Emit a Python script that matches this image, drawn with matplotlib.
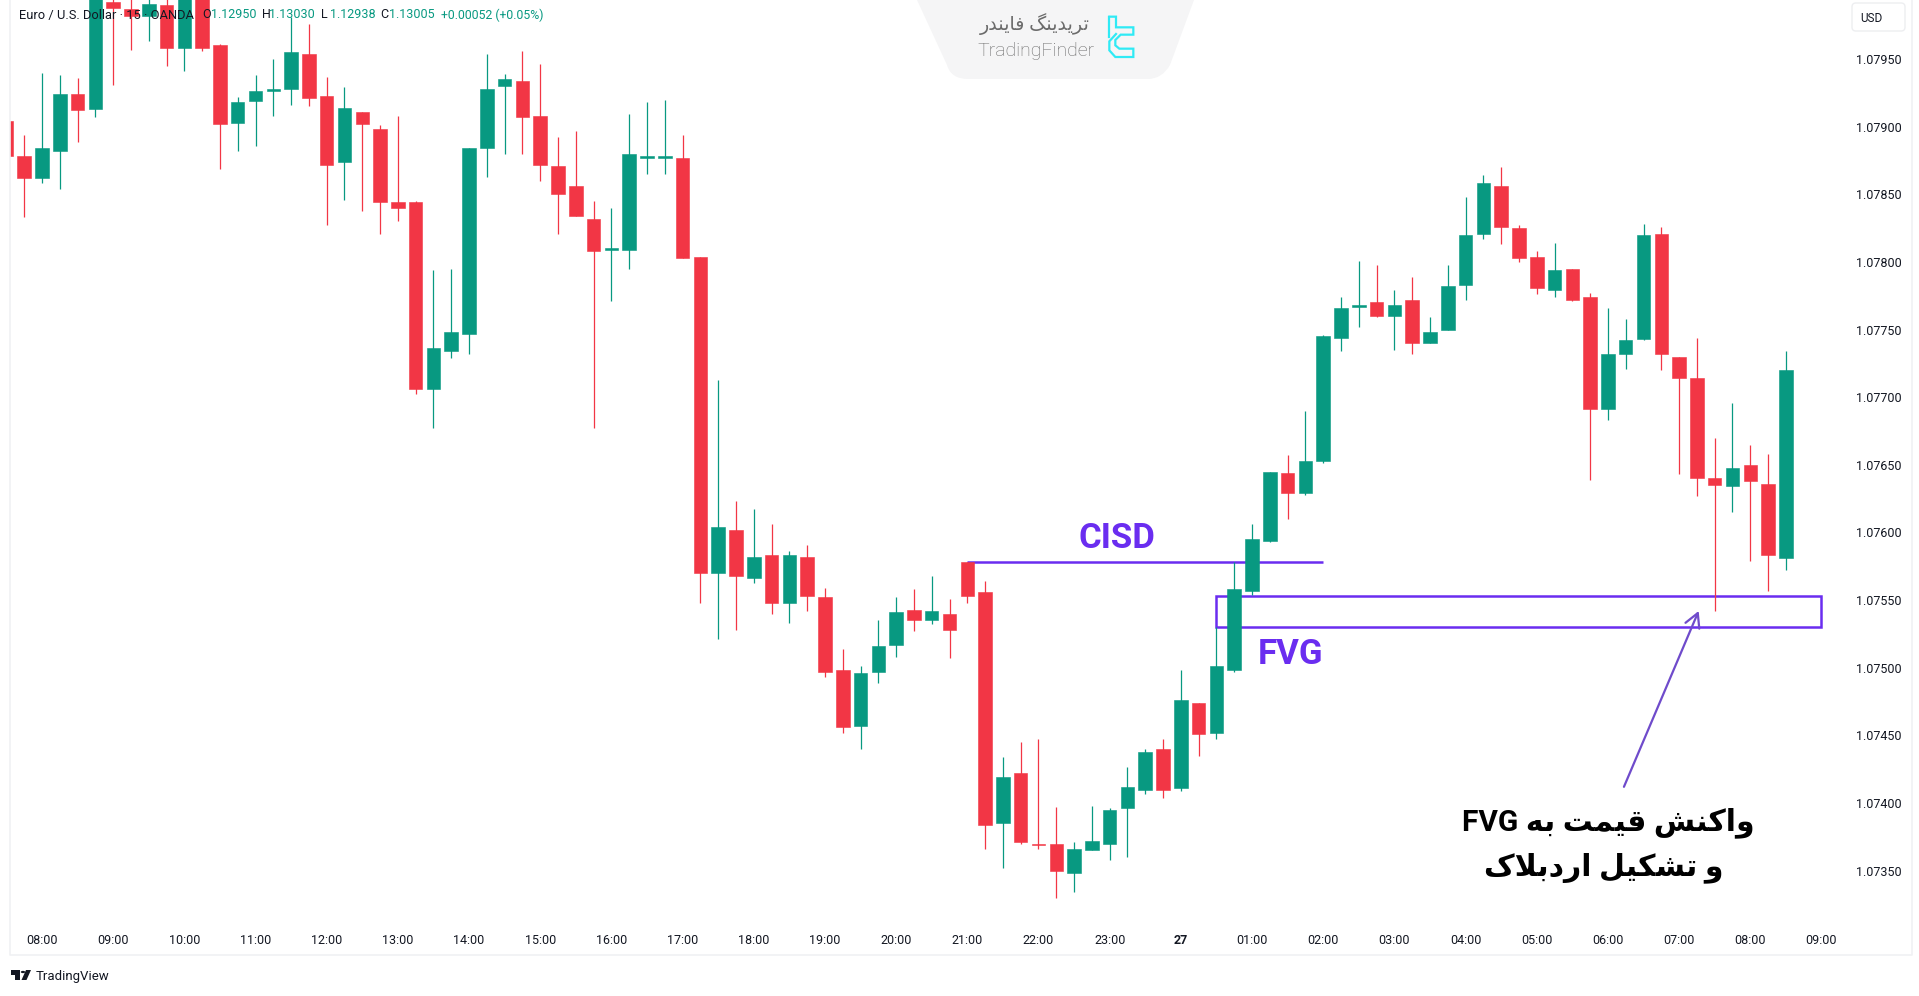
import matplotlib
matplotlib.use("Agg")
import matplotlib.pyplot as plt
from matplotlib.lines import Line2D
from matplotlib.patches import Polygon, PathPatch, FancyBboxPatch, Rectangle
from matplotlib.path import Path

plt.rcParams['font.family'] = ['Roboto', 'DejaVu Sans']

# ---------- data (15-minute candles, index 0 = 08:00) ----------
first_index = -2
opens = [
 1.07904,1.07878,1.07862,1.07882,1.07924,1.07913,1.07992,1.07987,1.07982,1.07990,
 1.07958,1.08005,1.07960,1.07903,1.07919,1.07926,1.07928,1.07954,1.07923,1.07874,
 1.07911,1.07898,1.07844,1.07844,1.07706,1.07734,1.07747,1.07884,1.07930,1.07934,
 1.07908,1.07871,1.07856,1.07832,1.07809,1.07809,1.07877,1.07877,1.07877,1.07804,
 1.07570,1.07602,1.07566,1.07583,1.07548,1.07582,1.07552,1.07498,1.07457,1.07497,
 1.07517,1.07543,1.07535,1.07540,1.07578,1.07556,1.07385,1.07422,1.07370,1.07370,
 1.07348,1.07365,1.07370,1.07396,1.07410,1.07440,1.07411,1.07474,1.07452,1.07498,
 1.07557,1.07594,1.07644,1.07629,1.07653,1.07744,1.07767,1.07770,1.07760,1.07772,
 1.07740,1.07750,1.07783,1.07821,1.07856,1.07825,1.07804,1.07779,1.07795,1.07774,
 1.07691,1.07732,1.07743,1.07821,1.07730,1.07714,1.07640,1.07634,1.07650,1.07636,
 1.07581]
closes = [
 1.07878,1.07862,1.07884,1.07924,1.07912,1.08001,1.07988,1.07982,1.07991,1.07958,
 1.08005,1.07958,1.07902,1.07918,1.07926,1.07928,1.07955,1.07921,1.07872,1.07914,
 1.07902,1.07844,1.07840,1.07706,1.07736,1.07748,1.07884,1.07928,1.07935,1.07907,
 1.07872,1.07850,1.07834,1.07808,1.07810,1.07880,1.07878,1.07878,1.07803,1.07570,
 1.07604,1.07568,1.07582,1.07548,1.07583,1.07553,1.07497,1.07456,1.07496,1.07516,
 1.07541,1.07535,1.07542,1.07528,1.07553,1.07384,1.07419,1.07371,1.07369,1.07350,
 1.07366,1.07372,1.07395,1.07412,1.07438,1.07410,1.07476,1.07451,1.07501,1.07558,
 1.07595,1.07645,1.07629,1.07653,1.07745,1.07766,1.07768,1.07760,1.07768,1.07740,
 1.07748,1.07782,1.07820,1.07858,1.07826,1.07803,1.07781,1.07794,1.07772,1.07691,
 1.07732,1.07742,1.07820,1.07732,1.07714,1.07640,1.07635,1.07648,1.07638,1.07583,
 1.07720]
highs = [
 1.07904,1.07894,1.07940,1.07938,1.07936,1.08010,1.08005,1.07998,1.08000,1.08000,
 1.08010,1.08012,1.07961,1.07922,1.07938,1.07950,1.07981,1.07976,1.07937,1.07929,
 1.07911,1.07901,1.07908,1.07845,1.07794,1.07795,1.07884,1.07954,1.07939,1.07956,
 1.07946,1.07892,1.07897,1.07845,1.07840,1.07909,1.07918,1.07920,1.07894,1.07804,
 1.07713,1.07623,1.07617,1.07606,1.07586,1.07591,1.07559,1.07514,1.07501,1.07535,
 1.07552,1.07558,1.07568,1.07551,1.07578,1.07564,1.07434,1.07445,1.07447,1.07397,
 1.07371,1.07398,1.07396,1.07427,1.07440,1.07447,1.07498,1.07474,1.07530,1.07578,
 1.07606,1.07645,1.07657,1.07690,1.07746,1.07774,1.07801,1.07798,1.07779,1.07789,
 1.07759,1.07798,1.07848,1.07864,1.07870,1.07827,1.07808,1.07814,1.07795,1.07777,
 1.07766,1.07758,1.07828,1.07826,1.07730,1.07744,1.07670,1.07696,1.07665,1.07658,
 1.07734]
lows = [
 1.07878,1.07833,1.07858,1.07854,1.07889,1.07907,1.07931,1.07957,1.07963,1.07945,
 1.07941,1.07956,1.07869,1.07882,1.07886,1.07908,1.07916,1.07915,1.07827,1.07846,
 1.07838,1.07821,1.07830,1.07702,1.07677,1.07729,1.07732,1.07863,1.07880,1.07880,
 1.07860,1.07821,1.07834,1.07677,1.07771,1.07795,1.07865,1.07865,1.07803,1.07548,
 1.07521,1.07528,1.07563,1.07540,1.07533,1.07542,1.07493,1.07452,1.07440,1.07489,
 1.07508,1.07527,1.07532,1.07507,1.07548,1.07366,1.07352,1.07370,1.07366,1.07330,
 1.07334,1.07365,1.07358,1.07360,1.07407,1.07404,1.07409,1.07435,1.07447,1.07497,
 1.07554,1.07593,1.07610,1.07628,1.07651,1.07734,1.07752,1.07759,1.07735,1.07732,
 1.07740,1.07750,1.07772,1.07817,1.07813,1.07800,1.07776,1.07774,1.07771,1.07639,
 1.07683,1.07721,1.07742,1.07720,1.07643,1.07627,1.07542,1.07615,1.07579,1.07557,
 1.07572]

price_ticks = [1.07350,1.07400,1.07450,1.07500,1.07550,1.07600,1.07650,1.07700,1.07750,1.07800,1.07850,1.07900,1.07950]
time_labels = ['08:00','09:00','10:00','11:00','12:00','13:00','14:00','15:00','16:00','17:00','18:00','19:00',
               '20:00','21:00','22:00','23:00','27','01:00','02:00','03:00','04:00','05:00','06:00','07:00','08:00','09:00']
bars_per_label = 4

cisd_start, cisd_end, cisd_price = 52, 72, 1.07578
fvg_left, fvg_right, fvg_top, fvg_bottom = 66, 100, 1.07553, 1.07530
arrow_tail = (88.9, 1.07412)
arrow_head = (93.1, 1.07542)

header_name = 'Euro / U.S. Dollar · 15 · OANDA'
header_fields = [('O', '1.12950'), ('H', '1.13030'), ('L', '1.12938'), ('C', '1.13005')]
header_change = '+0.00052 (+0.05%)'
note_lines = ['واکنش قیمت به FVG', 'و تشکیل اردبلاک']
logo_fa = 'تریدینگ فایندر'
logo_en = 'TradingFinder'

# ---------- minimal Persian shaping: matplotlib has no text shaping ----------
FORMS = {  # isolated, final, initial, medial
 'ا':(0xFE8D,0xFE8E,None,None),'ب':(0xFE8F,0xFE90,0xFE91,0xFE92),'ت':(0xFE95,0xFE96,0xFE97,0xFE98),
 'د':(0xFEA9,0xFEAA,None,None),'ر':(0xFEAD,0xFEAE,None,None),'ش':(0xFEB5,0xFEB6,0xFEB7,0xFEB8),
 'ف':(0xFED1,0xFED2,0xFED3,0xFED4),'ق':(0xFED5,0xFED6,0xFED7,0xFED8),'ک':(0xFB8E,0xFB8F,0xFB90,0xFB91),
 'گ':(0xFB92,0xFB93,0xFB94,0xFB95),'ل':(0xFEDD,0xFEDE,0xFEDF,0xFEE0),'م':(0xFEE1,0xFEE2,0xFEE3,0xFEE4),
 'ن':(0xFEE5,0xFEE6,0xFEE7,0xFEE8),'ه':(0xFEE9,0xFEEA,0xFEEB,0xFEEC),'و':(0xFEED,0xFEEE,None,None),
 'ی':(0xFBFC,0xFBFD,0xFBFE,0xFBFF),
}
def shape_word(w):
    out, n, k = [], len(w), 0
    def joins_next(ch): return FORMS[ch][2] is not None
    while k < n:
        ch = w[k]
        prev = k > 0 and joins_next(w[k-1])
        if ch == 'ل' and k + 1 < n and w[k+1] == 'ا':
            out.append(chr(0xFEFC if prev else 0xFEFB)); k += 2; continue
        nxt = k + 1 < n and joins_next(ch)
        f = FORMS[ch]
        code = f[3] if prev and nxt else f[1] if prev else f[2] if nxt else f[0]
        out.append(chr(code)); k += 1
    return ''.join(reversed(out))
def shape(s):
    return ' '.join(shape_word(w) if w[0] in FORMS else w for w in reversed(s.split(' ')))

# ---------- figure ----------
W, H = 1919, 996
fig = plt.figure(figsize=(W/100, H/100), dpi=100, facecolor='white')
def fx(x): return x / W
def fy(y): return 1 - y / H
def px(pts): return [(fx(a), fy(b)) for a, b in pts]

L, R, T, B = 10, 1851, 0, 925
ax = fig.add_axes([fx(L), fy(B), fx(R - L), (B - T) / H])
ax.set_xlim(-1.797, 101.66)
ax.set_ylim(1.0730986, 1.079936)
for s in ax.spines.values():
    s.set_visible(False)

GREEN, RED, PURPLE = '#089981', '#F23645', '#6A2DF0'

# annotations sit under the candles
ax.plot([cisd_start, cisd_end], [cisd_price]*2, color=PURPLE, lw=1.8, zorder=1, solid_capstyle='butt')
ax.add_patch(Rectangle((fvg_left, fvg_bottom), fvg_right - fvg_left, fvg_top - fvg_bottom,
                       fill=False, ec=PURPLE, lw=1.8, zorder=1))

xs = [first_index + k for k in range(len(opens))]
colors = [GREEN if c >= o else RED for o, c in zip(opens, closes)]
ax.vlines(xs, lows, highs, colors=colors, lw=0.9, zorder=2)
ax.bar(xs, [abs(c - o) for o, c in zip(opens, closes)], bottom=[min(o, c) for o, c in zip(opens, closes)],
       width=0.76, color=colors, edgecolor=colors, linewidth=0.4, zorder=3)

ax.annotate('', xy=arrow_head, xytext=arrow_tail, zorder=4,
            arrowprops=dict(arrowstyle='->,head_length=0.55,head_width=0.3', color='#6F4BCB', lw=1.6,
                            mutation_scale=18, shrinkA=0, shrinkB=0))

ax.yaxis.tick_right()
ax.set_yticks(price_ticks)
ax.set_yticklabels([f'{p:.5f}' for p in price_ticks])
ax.tick_params(axis='y', length=0, pad=3.5, labelsize=9, labelcolor='#131722')
ax.set_xticks(list(range(0, bars_per_label * len(time_labels), bars_per_label)))
ax.set_xticklabels(time_labels)
ax.tick_params(axis='x', length=0, pad=6.8, labelsize=9, labelcolor='#131722')
for t in ax.get_xticklabels():
    if t.get_text() == '27':
        t.set_fontweight('bold')

# panel borders
BORDER = '#F0F1F3'
fig.add_artist(Line2D(*zip(*px([(L, 0), (L, 955), (1912, 955), (1912, 0)])), color=BORDER, lw=1.2))

# header
def T_(x, y, s, **kw):
    kw.setdefault('va', 'center')
    return fig.text(fx(x), fy(y), s, **kw)
DARK, TEAL = '#131722', '#089981'
T_(19, 15, header_name, color=DARK, fontsize=9.3)
for (lab, val), xl, xv in zip(header_fields, [202, 262, 321, 380], [211, 269, 330, 389]):
    T_(xl, 15, lab, color=DARK, fontsize=9)
    T_(xv, 15, val, color=TEAL, fontsize=9)
T_(441, 15, header_change, color=TEAL, fontsize=8.8)

# USD button
fig.add_artist(FancyBboxPatch((fx(1852), fy(31)), fx(53), 28 / H, boxstyle='round,pad=0,rounding_size=0.002',
                              fc='white', ec='#EDEEF0', lw=1, transform=fig.transFigure, mutation_aspect=W / H))
T_(1860, 18, 'USD', color=DARK, fontsize=8.5)

# chart labels
T_(1116.7, 538, 'CISD', color=PURPLE, fontsize=25, fontweight='bold', ha='center')
T_(1291, 655, 'FVG', color=PURPLE, fontsize=25, fontweight='bold', ha='center')
for s, x, y in zip(note_lines, [1608, 1604], [823, 868]):
    T_(x, y, shape(s), color='black', fontsize=21.5, fontweight='bold', ha='center')

# watermark
verts = [(917, 0), (947, 65), (951, 79), (968, 79), (1148, 79), (1162, 79), (1170, 65), (1194, 0), (917, 0)]
codes = [Path.MOVETO, Path.LINETO, Path.CURVE3, Path.CURVE3, Path.LINETO, Path.CURVE3, Path.CURVE3, Path.LINETO, Path.CLOSEPOLY]
fig.add_artist(PathPatch(Path(px(verts), codes), fc='#F5F5F6', ec='none', transform=fig.transFigure))
T_(1035, 24, shape(logo_fa), color='#6B6B6B', fontsize=13.8, ha='center')
T_(1036, 50.5, logo_en, color='#6B6B6B', fontsize=14, ha='center', fontweight='light')
icon_a = [(28,26),(48,26),(48,58),(100,58),(100,80),(62,80),(46,96),(46,112),(58,122),(100,122),(100,147),(46,147),(28,127),(28,100),(48,78)]
icon_b = [(28,26),(28,88)]
for pts in (icon_a, icon_b):
    q = px([(1100 + a / 3, 8 + b / 3) for a, b in pts])
    fig.add_artist(Line2D(*zip(*q), color='#2FEAF5', lw=1.6, solid_joinstyle='miter'))

# TradingView mark
tv_t = [(10.7, 970), (20, 970), (20, 980), (15.3, 980), (15.3, 974.6), (10.7, 974.6)]
tv_v = [(26, 970), (31, 970), (26.5, 980), (21.5, 980)]
for pts in (tv_t, tv_v):
    fig.add_artist(Polygon(px(pts), closed=True, fc='#131722', ec='none', transform=fig.transFigure))
fig.add_artist(plt.Circle((fx(23), fy(972)), 2.2 / W, fc='#131722', ec='none', transform=fig.transFigure))
T_(36, 976, 'TradingView', color='#131722', fontsize=9.5)

fig.savefig('out.png', dpi=100)
